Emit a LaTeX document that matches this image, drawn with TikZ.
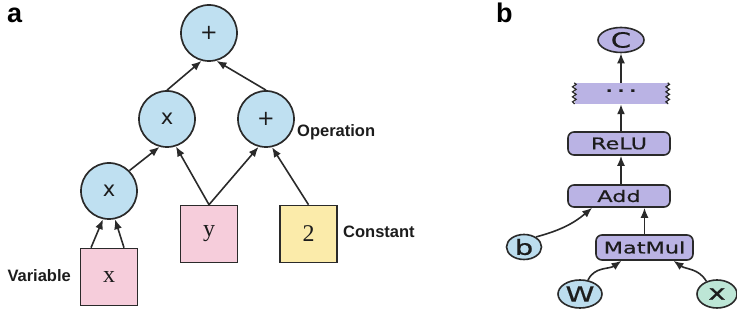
\documentclass[tikz,border=0pt]{standalone}
\usepackage{fontspec}
\usetikzlibrary{arrows.meta,shapes.geometric,decorations.pathmorphing,calc}

\newfontfamily\lblfont{Liberation Sans}
\newfontfamily\opfont{DejaVu Sans}
\newfontfamily\valfont{Liberation Serif}
\newfontfamily\widefont[FakeStretch=1.4,FakeBold=0.6]{DejaVu Sans}

\definecolor{edgegray}{HTML}{2A2A2A}
\definecolor{textdark}{HTML}{1C1C1C}
\definecolor{opblue}{HTML}{BFE0F1}
\definecolor{varpink}{HTML}{F6CDDB}
\definecolor{constyellow}{HTML}{FBEBAA}
\definecolor{layerpurple}{HTML}{BAB3E4}
\definecolor{tensorblue}{HTML}{BCDDEE}
\definecolor{tensorgreen}{HTML}{BDE6D6}

\tikzset{
  opnode/.style={circle, draw=edgegray, line width=1.7pt, fill=opblue,
    minimum size=56pt, inner sep=0pt, text=textdark,
    font=\opfont\fontsize{21}{21}\selectfont},
  valbox/.style={rectangle, draw=edgegray, line width=1.6pt,
    minimum width=57pt, minimum height=57pt, inner sep=0pt, text=textdark,
    font=\valfont\fontsize{24}{24}\selectfont},
  tag/.style={inner sep=0pt, text=textdark,
    font=\lblfont\bfseries\fontsize{16.5}{18}\selectfont},
  panel/.style={inner sep=0pt, text=black,
    font=\lblfont\bfseries\fontsize{27}{27}\selectfont},
  link/.style={draw=edgegray, line width=1.6pt,
    -{Latex[length=10pt,width=8pt]}},
  layer/.style={rectangle, rounded corners=6pt, draw=edgegray,
    line width=1.6pt, fill=layerpurple, inner sep=0pt, text=textdark,
    font=\widefont\fontsize{16}{16}\selectfont},
  tensor/.style={ellipse, draw=edgegray, line width=1.6pt, inner sep=0pt,
    text=textdark, font=\widefont\fontsize{21}{21}\selectfont},
  wavy/.style={draw=edgegray, line width=1.2pt, decorate,
    decoration={snake, segment length=5pt, amplitude=1.8pt}}
}

\begin{document}
\begin{tikzpicture}[x=1pt,y=1pt]
\useasboundingbox (0,0) rectangle (737,321);

% ---------- panel a: expression graph ----------
\node[panel, anchor=base west] (pa) at (7,298) {a};

\node[opnode] (ctop) at (209,288) {+};
\node[opnode] (cx2)  at (167,202) {x};
\node[opnode] (cp)   at (266,202) {+};
\node[opnode] (cx1)  at (109,130) {x};

\node[valbox, fill=varpink]     (xbox) at (109,44)   {x};
\node[valbox, fill=varpink]     (ybox) at (209,87)   {y};
\node[valbox, fill=constyellow] (cbox) at (308.5,87) {2};

\node[tag, anchor=base west] (lop)  at (297,184) {Operation};
\node[tag, anchor=base west] (lcon) at (343,83)  {Constant};
\node[tag, anchor=base east] (lvar) at (71,39)   {Variable};

\draw[link] ($(xbox.north)+(-18,0)$) -- (cx1.258);
\draw[link] ($(xbox.north)+(15,0)$) -- (cx1.282);
\draw[link] (cx1.45) -- (cx2.255);
\draw[link] (ybox.north) -- (cx2.288);
\draw[link] (ybox.north) -- (cp.255);
\draw[link] (cbox.north) -- (cp.282);
\draw[link] (cx2.north) -- (ctop.255);
\draw[link] (cp.north) -- (ctop.285);

% ---------- panel b: neural network layer graph ----------
\node[panel, anchor=base west] (pb) at (496,298) {b};

\node[tensor, fill=layerpurple, minimum width=46pt, minimum height=25pt] (C) at (621,281) {C};

\node[rectangle, fill=layerpurple, minimum width=93pt, minimum height=21pt,
      inner sep=0pt, text=textdark, font=\widefont\fontsize{20}{20}\selectfont]
      (dots) at (621,227.5) {·\kern3pt·\kern3pt·};
\draw[wavy] (dots.north west) -- (dots.south west);
\draw[wavy] (dots.north east) -- (dots.south east);

\node[layer, minimum width=102pt, minimum height=23pt] (relu) at (619,177.5) {ReLU};
\node[layer, minimum width=102pt, minimum height=22pt] (add)  at (619,125)   {Add};
\node[layer, minimum width=97pt,  minimum height=25pt] (mm)   at (644.5,73.5) {MatMul};

\node[tensor, fill=tensorblue,  minimum width=35pt, minimum height=25pt] (b)   at (524,74) {b};
\node[tensor, fill=tensorblue,  minimum width=44pt, minimum height=28pt] (W)   at (580,27) {W};
\node[tensor, fill=tensorgreen, minimum width=40pt, minimum height=28pt] (xin) at (717,27) {x};

\draw[link] (dots.north -| C) -- (C.south);
\draw[link] (relu.north -| C) -- (dots.south -| C);
\draw[link] (add.north -| C) -- (relu.south -| C);
\draw[link] (mm.north) -- (mm.north |- add.south);
\draw[link] (b.40) to[out=15, in=220] ($(add.south west)+(25,0)$);
\draw[link] (W.60) to[out=65, in=215] ($(mm.south)+(-23,0)$);
\draw[link] (xin.130) to[out=120, in=-35] ($(mm.south)+(29,0)$);
\end{tikzpicture}
\end{document}
